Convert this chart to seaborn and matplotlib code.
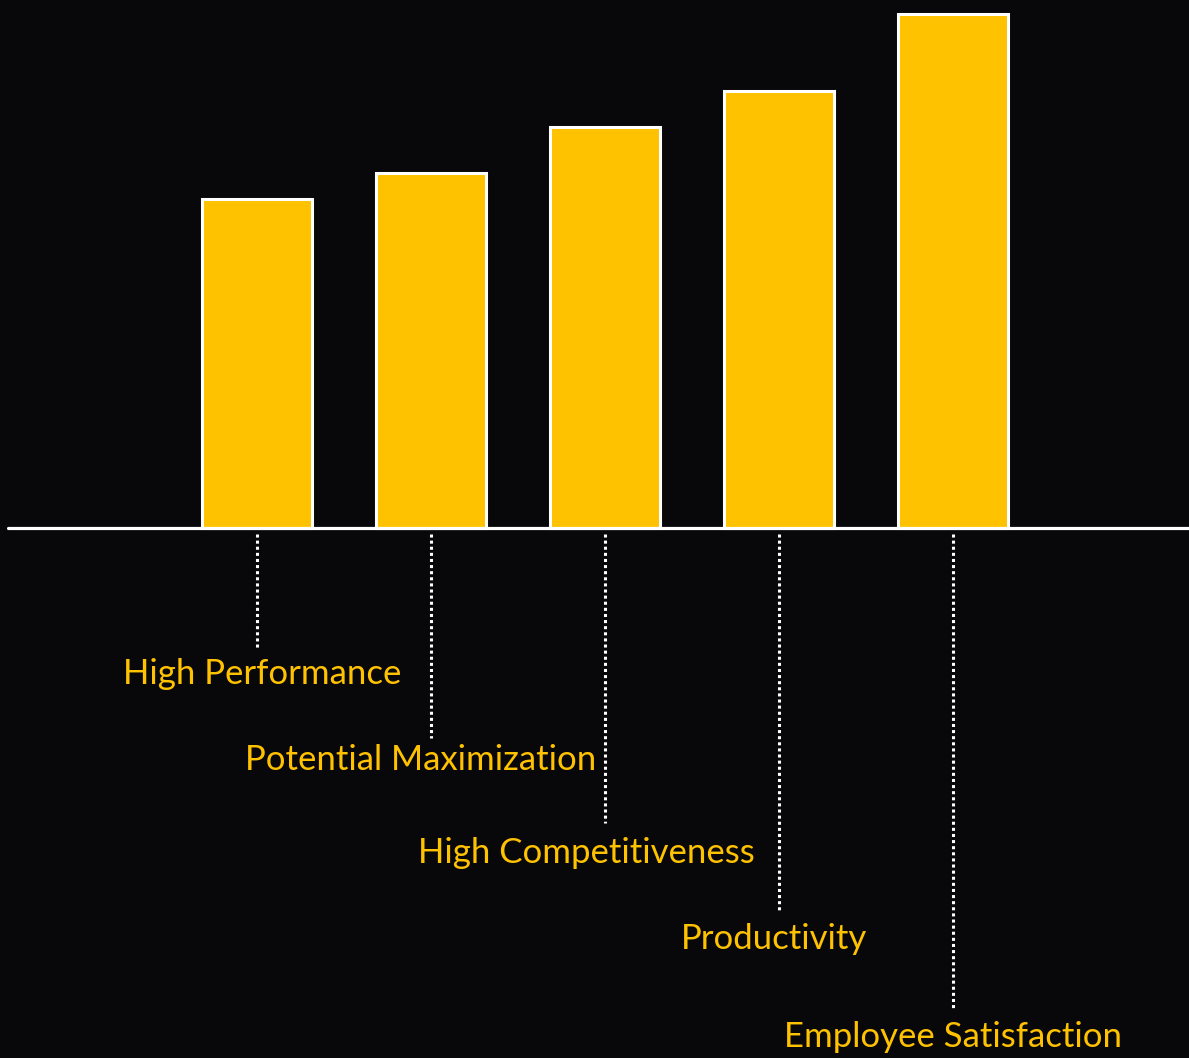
import pandas as pd
import numpy as np
import matplotlib
matplotlib.use("Agg")
import matplotlib.pyplot as plt
import seaborn as sns

# data (relative bar heights)
categories = ["High Performance", "Potential Maximization", "High Competitiveness",
              "Productivity", "Employee Satisfaction"]
values = [64, 69, 78, 85, 100]
# how far each dotted leader drops below the baseline (same units as values)
leader_depth = [23.3, 40.9, 57.4, 74.7, 93.4]

# label placement (layout only)
label_y = [-28.4, -45.1, -63.2, -80.0, -99.0]
label_dx = [0.03, -0.06, -0.11, -0.03, 0.0]

BG = "#08080a"
GOLD = "#ffc200"

sns.set_theme(style="white")
plt.rcParams["font.family"] = ["Lato", "DejaVu Sans"]

df = pd.DataFrame({"category": categories, "value": values})

fig = plt.figure(figsize=(11.89, 10.58), dpi=100, facecolor=BG)
ax = fig.add_axes([0, 0, 1, 1])
ax.set_facecolor(BG)

sns.barplot(data=df, x="category", y="value", color=GOLD, saturation=1,
            width=0.632, edgecolor="white", linewidth=2.2, ax=ax)

# baseline
ax.axhline(0, xmin=8 / 1189, xmax=1, color="white", lw=2.3, zorder=5)

# dotted leaders and labels
for i, (cat, d) in enumerate(zip(categories, leader_depth)):
    ax.plot([i, i], [-1.2, -d], color="white", lw=2.2,
            linestyle=(0, (1, 1)), zorder=4)
    ax.text(i + label_dx[i], label_y[i], cat, ha="center", va="center",
            color=GOLD, fontsize=25, fontweight="normal")

ax.set_xlim(-1.477, 5.356)
ax.set_ylim(-103.1, 102.7)
ax.set_axis_off()

fig.savefig("out.png", dpi=100, facecolor=BG)
